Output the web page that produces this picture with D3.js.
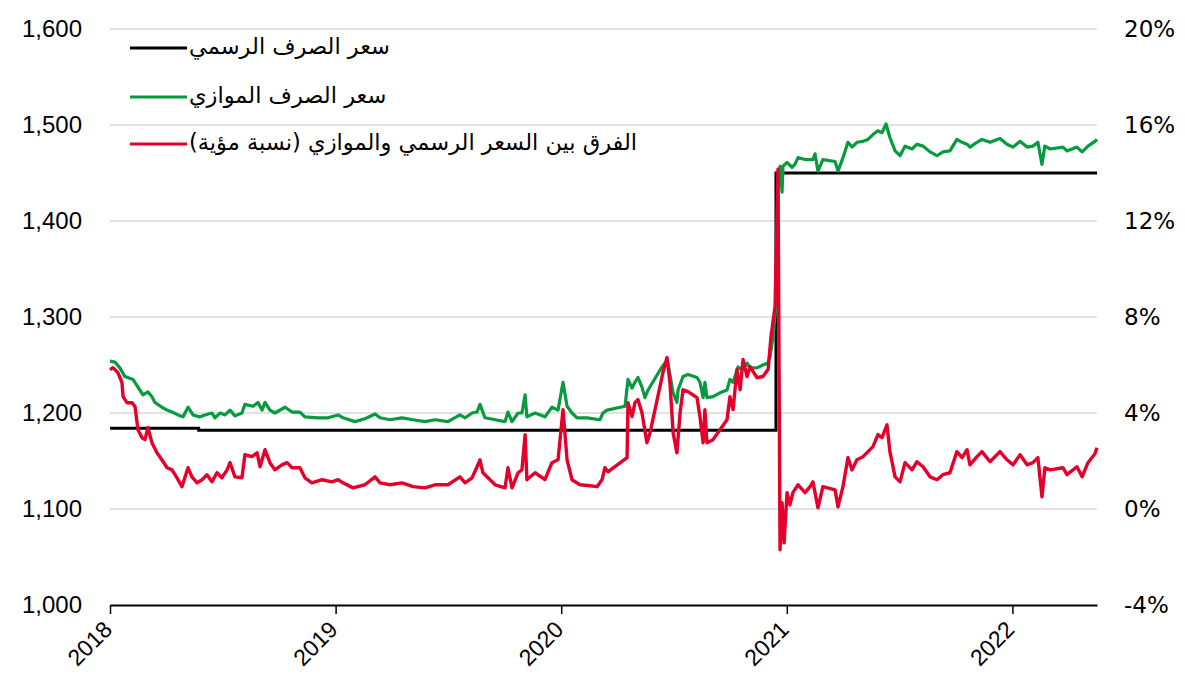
<!DOCTYPE html>
<html lang="ar">
<head>
<meta charset="UTF-8">
<title>سعر الصرف</title>
<script src="https://d3js.org/d3.v7.min.js"></script>
<style>
  body { margin: 0; background: #fff; }
  svg { display: block; }
</style>
</head>
<body>
<script>
// time is stored as decimal years (2018.5 = end of June 2018)
var years = [2018, 2019, 2020, 2021, 2022];
var leftTicks = [1000, 1100, 1200, 1300, 1400, 1500, 1600];
var rightTicks = [-4, 0, 4, 8, 12, 16, 20];

var legendLabels = ["سعر الصرف الرسمي", "سعر الصرف الموازي", "الفرق بين السعر الرسمي والموازي (نسبة مؤية)"];

// official rate (dinar per dollar)
var official = [
  [2018.000, 1184], [2018.393, 1184], [2018.393, 1182],
  [2020.952, 1182], [2020.952, 1450], [2022.375, 1450]
];

// parallel market rate
var parallel = [
  [2018.000, 1254], [2018.022, 1253], [2018.044, 1247], [2018.066, 1238], [2018.102, 1235],
  [2018.124, 1227], [2018.146, 1219], [2018.168, 1222], [2018.186, 1217], [2018.199, 1211],
  [2018.230, 1206], [2018.253, 1203], [2018.275, 1201], [2018.301, 1198], [2018.324, 1196],
  [2018.346, 1206], [2018.368, 1198], [2018.399, 1196], [2018.421, 1198], [2018.452, 1200],
  [2018.465, 1195], [2018.488, 1200], [2018.510, 1198], [2018.532, 1203], [2018.554, 1197],
  [2018.585, 1200], [2018.598, 1209], [2018.634, 1207], [2018.656, 1211], [2018.674, 1203],
  [2018.687, 1211], [2018.709, 1203], [2018.731, 1200], [2018.776, 1206], [2018.807, 1201],
  [2018.842, 1201], [2018.864, 1196], [2018.922, 1195], [2018.966, 1195], [2019.011, 1198],
  [2019.033, 1195], [2019.086, 1191], [2019.130, 1194], [2019.175, 1199], [2019.197, 1195],
  [2019.241, 1193], [2019.294, 1195], [2019.343, 1193], [2019.396, 1191], [2019.441, 1193],
  [2019.498, 1191], [2019.551, 1198], [2019.574, 1195], [2019.605, 1200], [2019.627, 1201],
  [2019.640, 1209], [2019.662, 1195], [2019.707, 1193], [2019.751, 1191], [2019.764, 1201],
  [2019.782, 1191], [2019.809, 1200], [2019.826, 1200], [2019.840, 1219], [2019.848, 1196],
  [2019.884, 1200], [2019.928, 1196], [2019.959, 1206], [2019.986, 1203], [2020.008, 1232],
  [2020.026, 1207], [2020.048, 1200], [2020.070, 1195], [2020.114, 1195], [2020.172, 1193],
  [2020.185, 1200], [2020.203, 1203], [2020.283, 1207], [2020.296, 1235], [2020.314, 1226],
  [2020.327, 1232], [2020.340, 1237], [2020.358, 1227], [2020.371, 1216], [2020.385, 1224],
  [2020.447, 1248], [2020.460, 1252], [2020.473, 1252], [2020.496, 1221], [2020.513, 1211],
  [2020.518, 1224], [2020.540, 1238], [2020.562, 1240], [2020.602, 1237], [2020.615, 1232],
  [2020.629, 1216], [2020.637, 1232], [2020.646, 1216], [2020.673, 1217], [2020.704, 1221],
  [2020.735, 1224], [2020.748, 1235], [2020.762, 1232], [2020.784, 1248], [2020.801, 1245],
  [2020.824, 1252], [2020.837, 1247], [2020.868, 1247], [2020.894, 1250], [2020.917, 1252],
  [2020.926, 1259], [2020.939, 1280], [2020.952, 1311], [2020.961, 1436], [2020.970, 1457],
  [2020.979, 1430], [2020.983, 1457], [2021.001, 1461], [2021.023, 1456], [2021.036, 1459],
  [2021.050, 1466], [2021.081, 1464], [2021.116, 1464], [2021.125, 1470], [2021.138, 1452],
  [2021.160, 1464], [2021.214, 1462], [2021.227, 1452], [2021.249, 1466], [2021.271, 1482],
  [2021.289, 1477], [2021.311, 1482], [2021.338, 1483], [2021.360, 1485], [2021.382, 1490],
  [2021.404, 1494], [2021.422, 1492], [2021.440, 1501], [2021.457, 1487], [2021.480, 1473],
  [2021.502, 1468], [2021.524, 1478], [2021.555, 1475], [2021.577, 1480], [2021.604, 1478],
  [2021.635, 1472], [2021.666, 1468], [2021.692, 1472], [2021.723, 1473], [2021.754, 1485],
  [2021.777, 1482], [2021.799, 1480], [2021.812, 1477], [2021.843, 1482], [2021.865, 1485],
  [2021.901, 1482], [2021.945, 1486], [2021.976, 1480], [2022.003, 1477], [2022.034, 1483],
  [2022.065, 1477], [2022.091, 1478], [2022.113, 1482], [2022.131, 1459], [2022.144, 1478],
  [2022.167, 1475], [2022.224, 1477], [2022.242, 1473], [2022.286, 1477], [2022.309, 1472],
  [2022.335, 1478], [2022.366, 1483], [2022.375, 1485]
];

// gap between the two rates, percent (right axis)
var gap = [
  [2018.000, 5.81], [2018.013, 5.89], [2018.035, 5.68], [2018.053, 5.27], [2018.058, 4.68],
  [2018.075, 4.43], [2018.098, 4.43], [2018.111, 4.26], [2018.124, 3.30], [2018.142, 2.97],
  [2018.155, 2.89], [2018.168, 3.39], [2018.186, 2.76], [2018.208, 2.34], [2018.230, 2.05],
  [2018.253, 1.72], [2018.275, 1.63], [2018.297, 1.30], [2018.319, 0.93], [2018.346, 1.72],
  [2018.363, 1.34], [2018.386, 1.09], [2018.408, 1.22], [2018.430, 1.43], [2018.452, 1.13],
  [2018.474, 1.51], [2018.496, 1.30], [2018.519, 1.63], [2018.532, 1.93], [2018.554, 1.34],
  [2018.585, 1.30], [2018.598, 2.26], [2018.629, 2.18], [2018.652, 2.34], [2018.665, 1.76],
  [2018.687, 2.47], [2018.709, 1.93], [2018.731, 1.63], [2018.762, 1.84], [2018.785, 1.93],
  [2018.807, 1.72], [2018.842, 1.72], [2018.864, 1.30], [2018.895, 1.09], [2018.940, 1.22],
  [2018.984, 1.13], [2019.011, 1.22], [2019.033, 1.09], [2019.077, 0.88], [2019.130, 1.01],
  [2019.175, 1.34], [2019.197, 1.09], [2019.241, 1.01], [2019.294, 1.09], [2019.343, 0.93],
  [2019.396, 0.88], [2019.441, 1.01], [2019.498, 1.01], [2019.551, 1.34], [2019.574, 1.09],
  [2019.605, 1.30], [2019.627, 1.76], [2019.640, 2.05], [2019.653, 1.51], [2019.707, 1.01],
  [2019.751, 0.88], [2019.764, 1.72], [2019.782, 0.88], [2019.809, 1.51], [2019.826, 1.63],
  [2019.840, 3.10], [2019.848, 1.22], [2019.884, 1.51], [2019.928, 1.22], [2019.959, 1.93],
  [2019.986, 2.05], [2020.008, 4.14], [2020.026, 2.05], [2020.048, 1.22], [2020.083, 1.01],
  [2020.128, 0.97], [2020.159, 0.93], [2020.181, 1.22], [2020.194, 1.72], [2020.207, 1.55],
  [2020.292, 2.14], [2020.296, 4.43], [2020.314, 3.85], [2020.327, 4.43], [2020.340, 4.56],
  [2020.358, 4.01], [2020.380, 2.76], [2020.394, 3.18], [2020.451, 5.68], [2020.469, 6.31],
  [2020.482, 5.27], [2020.496, 3.18], [2020.513, 2.34], [2020.527, 4.01], [2020.540, 4.97],
  [2020.562, 4.89], [2020.602, 4.64], [2020.615, 3.85], [2020.629, 2.76], [2020.637, 4.14],
  [2020.646, 2.76], [2020.673, 2.89], [2020.704, 3.30], [2020.735, 3.72], [2020.748, 4.68],
  [2020.762, 4.14], [2020.779, 5.81], [2020.793, 4.97], [2020.806, 6.23], [2020.824, 5.52],
  [2020.837, 5.93], [2020.868, 5.47], [2020.894, 5.52], [2020.917, 5.81], [2020.930, 7.19],
  [2020.948, 8.44], [2020.961, 14.16], [2020.970, -1.70], [2020.979, 0.26], [2020.988, -1.41],
  [2021.001, 0.68], [2021.014, 0.17], [2021.027, 0.68], [2021.050, 1.01], [2021.081, 0.68],
  [2021.103, 0.93], [2021.116, 1.13], [2021.138, 0.05], [2021.160, 0.93], [2021.214, 0.80],
  [2021.227, 0.09], [2021.249, 0.93], [2021.271, 2.14], [2021.289, 1.63], [2021.311, 2.05],
  [2021.338, 2.18], [2021.360, 2.39], [2021.382, 2.60], [2021.404, 3.10], [2021.422, 2.97],
  [2021.444, 3.51], [2021.457, 2.39], [2021.480, 1.34], [2021.502, 1.13], [2021.524, 1.93],
  [2021.555, 1.63], [2021.577, 1.97], [2021.604, 1.76], [2021.635, 1.34], [2021.666, 1.22],
  [2021.692, 1.43], [2021.723, 1.51], [2021.754, 2.39], [2021.777, 2.14], [2021.799, 2.47],
  [2021.812, 1.84], [2021.843, 2.18], [2021.865, 2.39], [2021.901, 1.97], [2021.945, 2.39],
  [2021.976, 2.05], [2022.003, 1.84], [2022.034, 2.26], [2022.065, 1.84], [2022.091, 1.93],
  [2022.113, 2.14], [2022.131, 0.51], [2022.144, 1.72], [2022.167, 1.63], [2022.224, 1.72],
  [2022.242, 1.43], [2022.286, 1.76], [2022.309, 1.34], [2022.335, 1.93], [2022.366, 2.30],
  [2022.375, 2.55]
];

var w = 1185;
var h = 678;

var svg = d3.select("body")
    .append("svg")
    .attr("width", w)
    .attr("height", h);

var x = d3.scaleLinear().domain([2018, 2022.375]).range([110, 1097]);
var yL = d3.scaleLinear().domain([1000, 1600]).range([605, 29]);
var yR = d3.scaleLinear().domain([-4, 20]).range([605, 29]);

// grid lines
svg.append("g")
    .selectAll("line")
    .data(leftTicks.slice(1))
    .enter()
    .append("line")
    .attr("x1", 110)
    .attr("x2", 1097)
    .attr("y1", function(d){ return yL(d); })
    .attr("y2", function(d){ return yL(d); })
    .attr("stroke", "#d9d9d9")
    .attr("stroke-width", 1.5);

// left axis
var gLeft = svg.append("g")
    .attr("transform", "translate(88,0)")
    .call(d3.axisLeft(yL).tickValues(leftTicks).tickFormat(d3.format(",")).tickSize(0).tickPadding(6));
gLeft.select(".domain").remove();
gLeft.selectAll("text")
    .attr("font-family", "Liberation Sans, Arial, sans-serif")
    .attr("font-size", 24)
    .attr("fill", "#000");

// right axis
var gRight = svg.append("g")
    .attr("transform", "translate(1118,0)")
    .call(d3.axisRight(yR).tickValues(rightTicks).tickFormat(function(d){ return d + "%"; }).tickSize(0).tickPadding(6));
gRight.select(".domain").remove();
gRight.selectAll("text")
    .attr("font-family", "DejaVu Sans, sans-serif")
    .attr("font-size", 23)
    .attr("fill", "#000");

// bottom axis
var gBottom = svg.append("g")
    .attr("transform", "translate(0,605)")
    .call(d3.axisBottom(x).tickValues(years).tickFormat(d3.format("d")).tickSize(9).tickSizeOuter(0));
gBottom.select(".domain")
    .attr("stroke", "#000")
    .attr("stroke-width", 2);
gBottom.selectAll(".tick line")
    .attr("stroke", "#000")
    .attr("stroke-width", 1.5);
gBottom.selectAll("text")
    .attr("font-family", "Liberation Sans, Arial, sans-serif")
    .attr("font-size", 23)
    .attr("fill", "#000")
    .attr("text-anchor", "end")
    .attr("y", 0)
    .attr("dy", 0)
    .attr("transform", "translate(3,26) rotate(-45)");

var lineL = d3.line()
    .x(function(d){ return x(d[0]); })
    .y(function(d){ return yL(d[1]); });

var lineR = d3.line()
    .x(function(d){ return x(d[0]); })
    .y(function(d){ return yR(d[1]); });

var colors = ["#000000", "#079a3e", "#e4002b"];

svg.append("path")
    .attr("d", lineL(official))
    .attr("fill", "none")
    .attr("stroke", colors[0])
    .attr("stroke-width", 3);

svg.append("path")
    .attr("d", lineL(parallel))
    .attr("fill", "none")
    .attr("stroke", colors[1])
    .attr("stroke-width", 3.2)
    .attr("stroke-linejoin", "round");

svg.append("path")
    .attr("d", lineR(gap))
    .attr("fill", "none")
    .attr("stroke", colors[2])
    .attr("stroke-width", 3.4)
    .attr("stroke-linejoin", "round");

// legend
var legY = [48, 97, 144];
var leg = svg.append("g");
for (var i = 0; i < legendLabels.length; i++) {
    leg.append("line")
        .attr("x1", 130)
        .attr("x2", 187)
        .attr("y1", legY[i])
        .attr("y2", legY[i])
        .attr("stroke", colors[i])
        .attr("stroke-width", 3);
    leg.append("text")
        .attr("x", 189)
        .attr("y", legY[i] + 6)
        .attr("direction", "rtl")
        .attr("text-anchor", "end")
        .attr("font-family", "DejaVu Sans, sans-serif")
        .attr("font-size", 22.5)
        .attr("fill", "#000")
        .text(legendLabels[i]);
}
</script>
</body>
</html>
